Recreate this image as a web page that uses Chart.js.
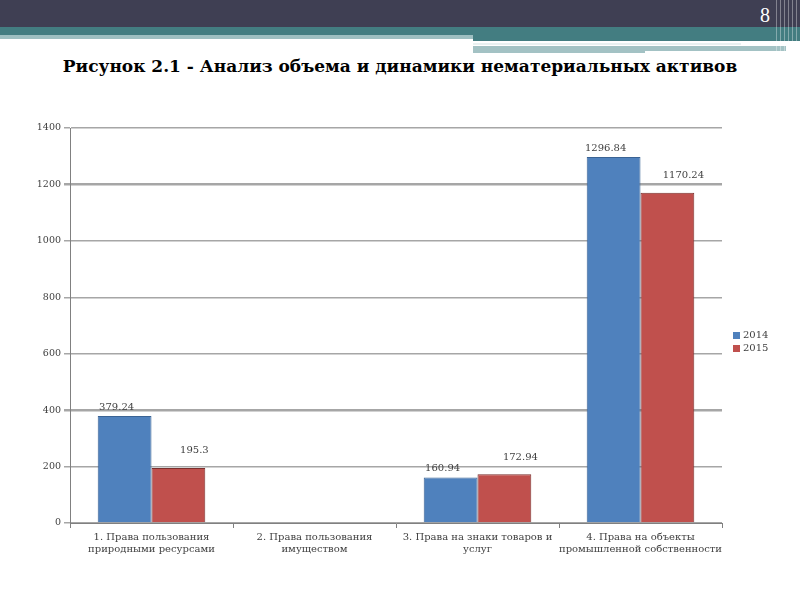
<!DOCTYPE html>
<html>
<head>
<meta charset="utf-8">
<script src="https://cdn.jsdelivr.net/npm/chart.js@4/dist/chart.umd.min.js"></script>
<style>
  body { margin: 0; width: 800px; height: 600px; background: #fff; position: relative; overflow: hidden; }
  .bar-dark { position: absolute; left: 0; top: 0; width: 800px; height: 27px; background: #3f3f53; }
  .teal { position: absolute; left: 0; top: 27px; width: 800px; height: 8px; background: #437d81; }
  .teal-left { position: absolute; left: 0; top: 35px; width: 473px; height: 4px; background: #9ebfc1; }
  .teal-right { position: absolute; left: 473px; top: 35px; width: 327px; height: 6px; background: #437d81; }
  .line-right { position: absolute; left: 473px; top: 43px; width: 268px; height: 2px; background: #e9f1f1; }
  .strip-right { position: absolute; left: 473px; top: 46px; width: 313px; height: 7px; background: #a3c2c4; }
  .strip-white { position: absolute; left: 645px; top: 51px; width: 141px; height: 2px; background: #ffffff; }
  .vlines { position: absolute; left: 776px; top: 0; width: 24px; height: 56px;
    background: repeating-linear-gradient(90deg, rgba(255,255,255,0.35) 0 1px, transparent 1px 4px); }
  .pagenum { position: absolute; left: 760px; top: 4px; color: #fff; font: 20px "Liberation Serif", serif; }
  .title { position: absolute; left: 0; top: 56px; width: 800px; text-align: center;
    font: bold 17px "DejaVu Serif", serif; color: #000; }
  #wrap { position: absolute; left: 30px; top: 118px; width: 770px; height: 445px; }
</style>
</head>
<body>
<div class="bar-dark"></div>
<div class="teal"></div>
<div class="teal-left"></div>
<div class="teal-right"></div>
<div class="line-right"></div>
<div class="strip-right"></div>
<div class="strip-white"></div>
<div class="vlines"></div>
<div class="pagenum">8</div>
<div class="title">Рисунок 2.1 - Анализ объема и динамики нематериальных активов</div>
<div id="wrap"><canvas id="bar"></canvas></div>
<script>
const categories = [
    ['1. Права пользования', 'природными ресурсами'],
    ['2. Права пользования', 'имуществом'],
    ['3. Права на знаки товаров и', 'услуг'],
    ['4. Права на объекты', 'промышленной собственности']
];
const series2014 = [379.24, null, 160.94, 1296.84];
const series2015 = [195.3, null, 172.94, 1170.24];
const yTicks = [0, 200, 400, 600, 800, 1000, 1200, 1400];

// value labels above bars + small legend on the right
const extras = {
    id: 'extras',
    afterDatasetsDraw(chart) {
        const ctx = chart.ctx;
        ctx.save();
        ctx.font = '10px "DejaVu Serif", serif';
        ctx.fillStyle = '#404040';
        ctx.textAlign = 'center';
        ctx.textBaseline = 'bottom';
        chart.data.datasets.forEach((ds, i) => {
            const meta = chart.getDatasetMeta(i);
            meta.data.forEach((bar, j) => {
                if (ds.data[j] == null) return;
                const dy = i === 0 ? 4 : 12;
                const dx = i === 0 ? -8 : 16;
                ctx.fillText(String(ds.data[j]), bar.x + dx, bar.y - dy);
            });
        });

        // legend
        const area = chart.chartArea;
        const lx = area.right + 11;
        let ly = (area.top + area.bottom) / 2 + 10;
        ctx.textAlign = 'left';
        ctx.textBaseline = 'middle';
        chart.data.datasets.forEach(ds => {
            ctx.fillStyle = ds.backgroundColor;
            ctx.fillRect(lx, ly - 3.5, 7, 7);
            ctx.fillStyle = '#404040';
            ctx.fillText(ds.label, lx + 10, ly);
            ly += 13;
        });
        ctx.restore();
    }
};

new Chart(document.getElementById('bar'), {
    type: 'bar',
    data: {
        labels: categories,
        datasets: [{
            label: '2014',
            data: series2014,
            backgroundColor: '#4f81bd',
            borderColor: '#3a6394',
            borderWidth: 1
        }, {
            label: '2015',
            data: series2015,
            backgroundColor: '#c0504d',
            borderColor: '#7a2f2d',
            borderWidth: 1
        }]
    },
    options: {
        responsive: true,
        maintainAspectRatio: false,
        animation: false,
        layout: { padding: { top: 10, right: 78 } },
        categoryPercentage: 0.66,
        barPercentage: 1,
        scales: {
            y: {
                min: 0,
                max: 1400,
                afterFit(scale) { scale.width = 40; },
                afterBuildTicks(scale) { scale.ticks = yTicks.map(v => ({ value: v })); },
                ticks: {
                    color: '#404040',
                    font: { family: '"DejaVu Serif", serif', size: 9.5 },
                    padding: 3,
                    callback: v => String(v)
                },
                grid: {
                    color: '#a6a6a6',
                    lineWidth: c => (c.tick && (c.tick.value === 1200 || c.tick.value === 400)) ? 2.5 : 1.5,
                    tickLength: 6
                },
                border: { color: '#808080', width: 1 }
            },
            x: {
                afterFit(scale) { scale.height = 40; },
                ticks: {
                    color: '#404040',
                    font: { family: '"DejaVu Serif", serif', size: 10, lineHeight: 1.2 },
                    maxRotation: 0,
                    autoSkip: false,
                    padding: 3
                },
                grid: { offset: true, drawOnChartArea: false, color: '#808080', tickLength: 5 },
                border: { color: '#808080', width: 1 }
            }
        },
        plugins: {
            legend: { display: false },
            tooltip: { enabled: false }
        }
    },
    plugins: [extras]
});
</script>
</body>
</html>
